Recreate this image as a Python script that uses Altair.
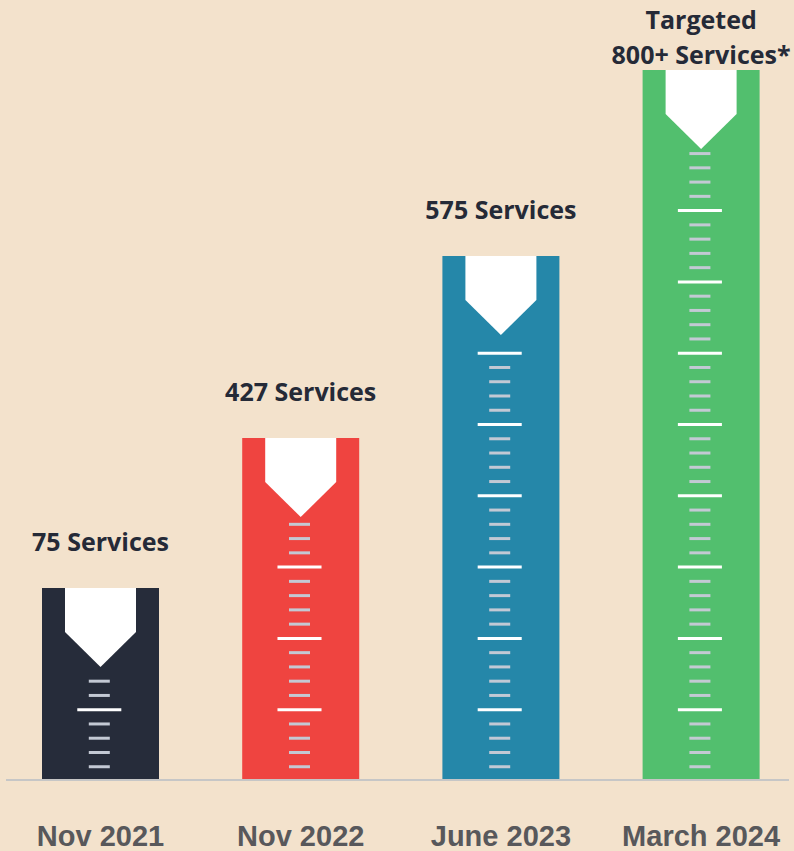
import altair as alt
import pandas as pd

# ---- data ----
periods = ["Nov 2021", "Nov 2022", "June 2023", "March 2024"]
service_labels = ["75 Services", "427 Services", "575 Services", "Targeted\n800+ Services*"]
# drawn bar heights, in ruler-tick units (one minor tick = 1 unit)
bar_heights = [13.53, 24.05, 36.82, 49.86]
# highest ruler tick drawn inside each bar
top_tick = [7, 18, 30, 44]
bar_colors = ["#262c3a", "#ef4440", "#2587a9", "#52bf6e"]

bars = pd.DataFrame({
    "i": list(range(len(periods))),
    "period": periods,
    "label": service_labels,
    "h": bar_heights,
    "color": bar_colors,
})

tick_rows = []
for i, n in enumerate(top_tick):
    for k in range(1, n + 1):
        tick_rows.append({"i": i, "k": k, "major": k % 5 == 0})
ticks = pd.DataFrame(tick_rows)

xs = alt.Scale(domain=[-0.502, 3.464], nice=False, zero=False)
ys = alt.Scale(domain=[0, 54.77], nice=False, zero=True)

base = alt.Chart(bars)

bar_layer = base.transform_calculate(
    x1="datum.i - 0.2922", x2="datum.i + 0.2922"
).mark_rect().encode(
    x=alt.X("x1:Q", scale=xs, axis=None),
    x2="x2:Q",
    y=alt.Y("h:Q", scale=ys, axis=None),
    y2=alt.datum(0),
    color=alt.Color("color:N", scale=None, legend=None),
)

pent_path = "M-1,0L1,0L1,1.239L0,2.225L-1,1.239Z"
pent_layer = base.mark_point(
    shape=pent_path, filled=True, size=5041, color="#ffffff", opacity=1, strokeWidth=0
).encode(
    x=alt.X("i:Q", scale=xs, axis=None),
    y=alt.Y("h:Q", scale=ys, axis=None),
)

tick_base = alt.Chart(ticks).transform_calculate(
    half="datum.major ? 0.11 : 0.0525",
).transform_calculate(
    xa="datum.i - 0.006 - datum.half", xb="datum.i - 0.006 + datum.half"
)

minor_layer = tick_base.transform_filter("!datum.major").mark_rule(
    color="#c3c9d4", strokeWidth=3
).encode(
    x=alt.X("xa:Q", scale=xs, axis=None),
    x2="xb:Q",
    y=alt.Y("k:Q", scale=ys, axis=None),
)

major_layer = tick_base.transform_filter("datum.major").mark_rule(
    color="#ffffff", strokeWidth=3
).encode(
    x=alt.X("xa:Q", scale=xs, axis=None),
    x2="xb:Q",
    y=alt.Y("k:Q", scale=ys, axis=None),
)

axis_line = base.mark_rule(color="#c6c6c6", strokeWidth=2).encode(
    x=alt.value(6), x2=alt.value(789), y=alt.value(780)
)

label_font = dict(font="Open Sans", fontWeight="bold", fontSize=25, color="#252a37",
                  align="center", baseline="bottom", lineBreak="\n", lineHeight=35)

value_labels = base.transform_filter("datum.i < 3").mark_text(dy=-32, **label_font).encode(
    x=alt.X("i:Q", scale=xs, axis=None),
    y=alt.Y("h:Q", scale=ys, axis=None),
    text="label:N",
)

target_label = base.transform_filter("datum.i == 3").mark_text(dy=-36.5, **label_font).encode(
    x=alt.X("i:Q", scale=xs, axis=None),
    y=alt.Y("h:Q", scale=ys, axis=None),
    text="label:N",
)

period_labels = base.mark_text(
    font="Liberation Sans", fontWeight="bold", fontSize=29, color="#58585b",
    align="center", baseline="alphabetic"
).encode(
    x=alt.X("i:Q", scale=xs, axis=None),
    y=alt.value(846),
    text="period:N",
)

chart = alt.layer(
    bar_layer, pent_layer, minor_layer, major_layer, axis_line,
    value_labels, target_label, period_labels
).properties(
    width=794, height=781,
    autosize=alt.AutoSizeParams(type="none"),
    padding={"left": 0, "top": 0, "right": 0, "bottom": 70},
    background="#f3e2cc",
).configure_view(stroke=None)

chart.save("out.html", embed_options={"renderer": "svg", "actions": False})
